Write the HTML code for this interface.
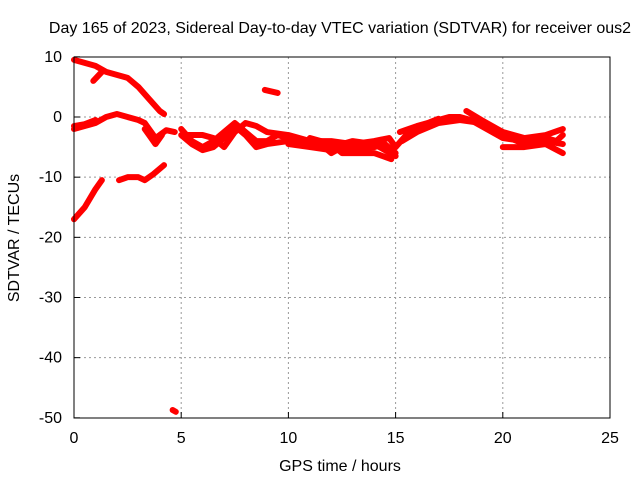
<!DOCTYPE html>
<html><head><meta charset="utf-8"><style>
body{margin:0;background:#fff}
text{font-family:"Liberation Sans",sans-serif;font-size:16px;fill:#000}
</style></head><body>
<svg id="c" width="640" height="480">
<text x="340" y="33" text-anchor="middle">Day 165 of 2023, Sidereal Day-to-day VTEC variation (SDTVAR) for receiver ous2</text>
<text x="340" y="471" text-anchor="middle">GPS time / hours</text>
<text transform="translate(19,238) rotate(-90)" text-anchor="middle">SDTVAR / TECUs</text>
<g id="grid"></g><g id="marks"></g>
<rect x="74" y="57" width="536" height="361" fill="none" stroke="#000" stroke-width="1"/>
</svg>
<script>
const xTicks=[0,5,10,15,20,25];
const yTicks=[10,0,-10,-20,-30,-40,-50];
const series=[
[[0,9.5],[0.5,9],[1,8.5],[1.5,7.5],[2,7],[2.5,6.5],[3,5],[3.5,3],[4,1],[4.2,0.5]],
[[0.9,6],[1.3,7.5]],
[[0,-2],[0.5,-1.5],[1,-1],[1.5,0],[2,0.5],[2.5,0],[3,-0.5],[3.3,-1],[3.6,-2.5],[3.8,-3.5],[4,-3],[4.3,-2.2],[4.7,-2.5]],
[[0,-1.5],[0.5,-1.2],[1,-0.5]],
[[3.3,-2],[3.6,-3.5],[3.8,-4.5],[4.1,-3]],
[[0,-17],[0.5,-15],[1,-12],[1.3,-10.5]],
[[2.1,-10.5],[2.5,-10],[3,-10],[3.3,-10.5],[3.7,-9.5],[4.2,-8]],
[[8.9,4.5],[9.5,4]],
[[4.6,-48.7],[4.75,-49]],
[[5,-2],[5.5,-4],[6,-5],[6.5,-4],[7,-2.5],[7.5,-1],[8,-2.5],[8.5,-4],[9,-4],[9.5,-3],[10,-3.5],[11,-4],[11.5,-4.5],[12,-6],[12.5,-5],[13,-5],[14,-5],[14.5,-4.5],[15,-6]],
[[5.2,-3],[6,-3],[6.5,-3.5],[7,-5],[7.5,-2.5],[8,-1],[8.5,-1.5],[9,-2.5],[10,-3],[11,-4],[12,-4],[13,-4.5],[14,-4],[14.7,-3.5],[15,-5]],
[[5,-3],[5.5,-4.5],[6,-5.5],[6.5,-5],[7,-3.5],[7.5,-1.5],[8,-3],[8.5,-5],[9,-4.5],[10,-4],[11,-4.5],[12,-5],[13,-4],[14,-4.5],[15,-6.5]],
[[10,-4.5],[11,-5],[12,-5.5],[13,-5.5],[14,-5]],
[[11,-3.5],[12,-4.5],[12.5,-6],[13,-6],[14,-6],[14.8,-7]],
[[15,-5],[15.5,-3],[16,-2],[16.5,-1.5],[17,-0.5],[17.5,0],[18,0],[18.5,-0.5],[19,-1.5],[19.5,-2.5],[20,-3.5],[21,-4],[22,-3.5],[22.5,-4],[22.8,-3]],
[[15.2,-2.5],[16,-1.5],[16.5,-1],[17,-0.3]],
[[15.3,-4],[16,-2.5],[17,-1],[18,-0.5],[19,-1],[20,-3],[21,-4.5],[22,-4],[22.8,-4.5]],
[[18.3,1],[19,-0.5],[20,-2.5],[21,-3.5],[22,-3],[22.8,-2]],
[[20,-5],[21,-5],[22,-4.5],[22.8,-6]]
];
const X=v=>74+v*536/25, Y=v=>117-v*361/60;
const ns="http://www.w3.org/2000/svg", g=document.getElementById('grid'), m=document.getElementById('marks');
function mk(tag,attrs,parent){const e=document.createElementNS(ns,tag);for(const k in attrs)e.setAttribute(k,attrs[k]);parent.appendChild(e);return e;}
xTicks.forEach(t=>{
 if(t>0&&t<25){const l=mk('line',{x1:X(t),x2:X(t),y1:57,y2:418,stroke:'#999','stroke-dasharray':'2,3'},g);
 
 }
 const k=mk('line',{x1:X(t),x2:X(t),y1:418,y2:412,stroke:'#000'},g);
 
 
 const s=mk('text',{x:X(t),y:443,'text-anchor':'middle'},g);s.textContent=t;
 
 
});
yTicks.forEach(t=>{
 if(t<10&&t>-50){const l=mk('line',{x1:74,x2:610,y1:Y(t),y2:Y(t),stroke:'#999','stroke-dasharray':'2,3'},g);
 
 }
 const k=mk('line',{x1:74,x2:80,y1:Y(t),y2:Y(t),stroke:'#000'},g);
 
 
 const s=mk('text',{x:62,y:Y(t)+5,'text-anchor':'end'},g);s.textContent=t;
 
 
});
series.forEach(s=>{
 const p=mk('polyline',{points:s.map(d=>X(d[0])+','+Y(d[1])).join(' '),fill:'none',stroke:'#f00','stroke-width':6,'stroke-linejoin':'round','stroke-linecap':'round'},m);
 
 
});
</script>
</body></html>
